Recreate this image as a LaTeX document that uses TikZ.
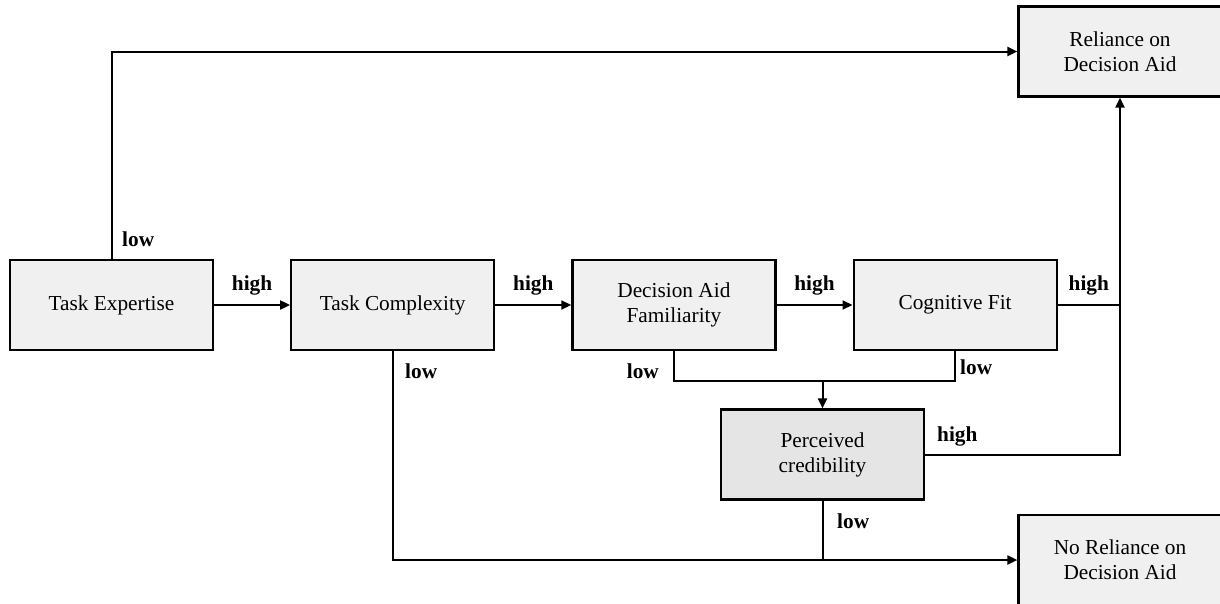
\documentclass[tikz,border=0pt]{standalone}
\usepackage{fontspec}
\setmainfont{Liberation Serif}
\usetikzlibrary{positioning,arrows.meta}
\begin{document}
\begin{tikzpicture}[x=1pt, y=-1pt, >={Triangle[length=10pt,width=9pt]},
    node distance=76pt,
    font=\fontsize{21.3pt}{25pt}\selectfont,
    box/.style={draw, line width=2.2pt, fill=gray!12, minimum width=203pt,
        minimum height=90pt, align=center, inner sep=2pt},
    lbl/.style={font=\fontsize{21.3pt}{25pt}\selectfont\bfseries, inner sep=0pt},
    link/.style={line width=2pt}]
\useasboundingbox (0,0) rectangle (1220,603);
% main row
\node[box] (expertise) at (111.5,305) {Task Expertise};
\node[box, right=of expertise] (complexity) {Task Complexity};
\node[box, right=of complexity] (familiarity) {Decision Aid\\Familiarity};
\node[box, right=of familiarity] (fit) {Cognitive Fit};
% outcomes
\node[box] (reliance) at (1120,51.5) {Reliance on\\Decision Aid};
\node[box, fill=gray!20] (credibility) at (822.5,454.5) {Perceived\\credibility};
\node[box] (noreliance) at (1120,560) {No Reliance on\\Decision Aid};
% high paths
\draw[link,->] (expertise) -- node[lbl, above=9pt] {high} (complexity);
\draw[link,->] (complexity) -- node[lbl, above=9pt] {high} (familiarity);
\draw[link,->] (familiarity) -- node[lbl, above=9pt] {high} (fit);
\draw[link] (fit.east) -- node[lbl, above=9pt] {high} (fit.east -| reliance.south);
\draw[link,->] (credibility.east) -| (reliance.south);
\node[lbl, anchor=base west] (credhigh) at (937,441) {high};
% low paths
\draw[link,->] (expertise.north) |- (reliance.west);
\node[lbl, anchor=base west] (explow) at (122,246) {low};
\draw[link,->] (complexity.south) |- (noreliance.west);
\node[lbl, anchor=base west] (complow) at (405,378) {low};
\path (familiarity.south) ++(0,30) coordinate (famdown);
\draw[link] (familiarity.south) -- (famdown) -| (fit.south);
\draw[link,->] (credibility.north |- famdown) -- (credibility.north);
\node[lbl, anchor=base east] (famlow) at (659,378) {low};
\node[lbl, anchor=base west] (fitlow) at (960,374) {low};
\draw[link] (credibility.south) -- (credibility.south |- noreliance.west);
\node[lbl, anchor=base west] (credlow) at (837,528) {low};
\end{tikzpicture}
\end{document}
